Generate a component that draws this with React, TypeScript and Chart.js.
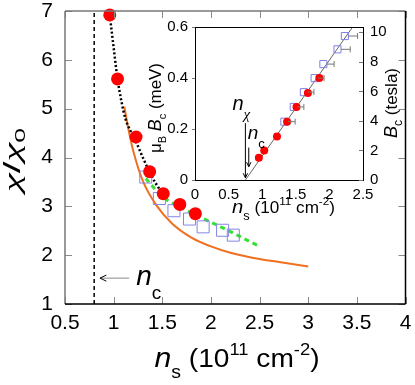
import React, { useEffect, useRef } from 'react';
import { Chart, registerables } from 'chart.js';

Chart.register(...registerables);

const SANS = '"Liberation Sans", Arial, Helvetica, sans-serif';
const SERIF = '"Liberation Serif", "DejaVu Serif", serif';
Chart.defaults.font.family = SANS;
Chart.defaults.color = '#000';

// ---------- main panel: chi/chi0 vs n_s ----------
const mainXTicks = [0.5, 1, 1.5, 2, 2.5, 3, 3.5, 4];
const mainXTickLabels = ['0.5', '1', '1.5', '2', '2.5', '3', '3.5', '4'];
const mainYTicks = [1, 2, 3, 4, 5, 6, 7];
const mainYTickLabels = ['1', '2', '3', '4', '5', '6', '7'];

const redNs = [0.96, 1.04, 1.23, 1.37, 1.51, 1.68, 1.84];
const redChi = [6.92, 5.61, 4.42, 3.71, 3.26, 3.04, 2.85];
const sqNs = [1.33, 1.47, 1.62, 1.78, 1.92, 2.12, 2.23];
const sqChi = [3.6, 3.16, 2.91, 2.74, 2.58, 2.51, 2.41];
const dottedNs = [0.96, 1.0, 1.04, 1.08, 1.12, 1.18, 1.23, 1.3, 1.37, 1.43, 1.49];
const dottedChi = [6.92, 6.25, 5.61, 5.15, 4.8, 4.52, 4.32, 4.0, 3.7, 3.48, 3.3];
const greenNs = [1.33, 1.5, 1.7, 1.9, 2.1, 2.3, 2.51];
const greenChi = [3.57, 3.2, 2.97, 2.77, 2.58, 2.38, 2.17];
const orangeNs = [1.11, 1.15, 1.2, 1.3, 1.44, 1.6, 1.8, 2.0, 2.2, 2.5, 2.7, 3.0];
const orangeChi = [5.04, 4.6, 4.15, 3.52, 3.02, 2.65, 2.36, 2.18, 2.05, 1.92, 1.86, 1.77];
const ncLineNs = [0.8, 0.8];
const ncLineChi = [1, 7];
const ncArrowNs = [1.16, 0.86];
const ncArrowChi = 1.53;

// ---------- inset: mu_B B_c vs n_s ----------
const insetXTicks = [0, 0.5, 1, 1.5, 2, 2.5];
const insetXTickLabels = ['0', '0.5', '1', '1.5', '2', '2.5'];
const insetYTicks = [0, 0.2, 0.4, 0.6];
const insetYTickLabels = ['0', '0.2', '0.4', '0.6'];
const insetY2Ticks = [0, 2, 4, 6, 8, 10];
const insetY2TickLabels = ['0', '2', '4', '6', '8', '10'];
const muB = 0.0579; // meV per tesla
const insetYMax = 0.6;

const insetRedNs = [0.95, 1.03, 1.22, 1.37, 1.51, 1.68, 1.85];
const insetRedB = [1.5, 2.0, 2.95, 3.95, 4.95, 5.9, 6.9];
const insetSqNs = [1.33, 1.47, 1.62, 1.78, 1.91, 2.12, 2.23];
const insetSqB = [3.95, 4.95, 5.95, 6.9, 7.85, 8.85, 9.75];
const insetSqErr = [0.16, 0.15, 0.15, 0.14, 0.16, 0.19, 0.19];
const fitNs = [0.75, 2.345];
const fitB = [0, 10.36];
const nChiNs = 0.75;
const nChiArrowB = [3.85, 0.15];
const ncNs = 0.8;
const ncArrowB = [2.2, 0.9];

const pts = (xs: number[], ys: number[]) => xs.map((x, i) => ({ x, y: ys[i] }));

type Seg = { t: string; size: number; italic?: boolean; dy?: number; serif?: boolean };
const segFont = (s: Seg) => `${s.italic ? 'italic ' : ''}${s.size}px ${s.serif ? SERIF : SANS}`;

function drawRich(
  ctx: CanvasRenderingContext2D,
  segs: Seg[],
  x: number,
  y: number,
  opt: { align?: 'left' | 'center'; rot?: number; width?: number; color?: string } = {}
) {
  ctx.save();
  let w = 0;
  for (const s of segs) {
    ctx.font = segFont(s);
    w += ctx.measureText(s.t).width;
  }
  const sx = opt.width ? opt.width / w : 1;
  ctx.translate(x, y);
  if (opt.rot) ctx.rotate(opt.rot);
  ctx.scale(sx, 1);
  let cx = opt.align === 'center' ? -w / 2 : 0;
  ctx.fillStyle = opt.color || '#000';
  ctx.textAlign = 'left';
  ctx.textBaseline = 'alphabetic';
  for (const s of segs) {
    ctx.font = segFont(s);
    ctx.fillText(s.t, cx, s.dy || 0);
    cx += ctx.measureText(s.t).width;
  }
  ctx.restore();
}

function seg(ctx: CanvasRenderingContext2D, x1: number, y1: number, x2: number, y2: number) {
  ctx.beginPath();
  ctx.moveTo(x1, y1);
  ctx.lineTo(x2, y2);
  ctx.stroke();
}

function arrow(
  ctx: CanvasRenderingContext2D,
  x1: number, y1: number, x2: number, y2: number,
  lineColor: string, headColor: string, head = 6
) {
  ctx.save();
  ctx.lineWidth = 1;
  ctx.strokeStyle = lineColor;
  seg(ctx, x1, y1, x2, y2);
  const ang = Math.atan2(y2 - y1, x2 - x1);
  ctx.strokeStyle = headColor;
  ctx.beginPath();
  ctx.moveTo(x2 - head * Math.cos(ang - 0.45), y2 - head * Math.sin(ang - 0.45));
  ctx.lineTo(x2, y2);
  ctx.lineTo(x2 - head * Math.cos(ang + 0.45), y2 - head * Math.sin(ang + 0.45));
  ctx.stroke();
  ctx.restore();
}

const tickSetter = (vals: number[]) => (axis: any) => {
  axis.ticks = vals.map((value) => ({ value }));
};
const labelFor = (vals: number[], labels: string[]) => (v: any) => {
  const i = vals.indexOf(Number(v));
  return i >= 0 ? labels[i] : '';
};
// fixed axis box size; label overflow must not push the plot area around
const fixSize = (prop: 'width' | 'height', size: number) => (s: any) => {
  s[prop] = size;
  s.paddingTop = 0;
  s.paddingBottom = 0;
  s.paddingLeft = 0;
  s.paddingRight = 0;
};

const mainDecor = {
  id: 'mainDecor',
  afterDraw(chart: any) {
    const { ctx, chartArea: a, scales } = chart;
    const x = scales.x;
    const y = scales.y;
    ctx.save();
    // inward ticks on all sides
    ctx.strokeStyle = '#8a8a8a';
    ctx.lineWidth = 1;
    for (const v of mainXTicks) {
      const px = Math.round(x.getPixelForValue(v)) + 0.5;
      seg(ctx, px, a.bottom, px, a.bottom - 7);
      seg(ctx, px, a.top, px, a.top + 7);
    }
    for (const v of mainYTicks) {
      const py = Math.round(y.getPixelForValue(v)) + 0.5;
      seg(ctx, a.left, py, a.left + 7, py);
      seg(ctx, a.right, py, a.right - 7, py);
    }
    // frame
    ctx.lineWidth = 1.5;
    ctx.strokeStyle = '#777';
    seg(ctx, a.left, a.bottom, a.left, a.top);
    seg(ctx, a.left, a.top, a.right, a.top);
    ctx.strokeStyle = '#000';
    seg(ctx, a.left, a.bottom, a.right, a.bottom);
    seg(ctx, a.right, a.bottom, a.right, a.top);

    // axis titles
    drawRich(
      ctx,
      [
        { t: 'χ', size: 24, serif: true, italic: true },
        { t: '/', size: 24 },
        { t: 'χ', size: 24, serif: true, italic: true },
        { t: '0', size: 15, dy: 5 },
      ],
      20, 160, { align: 'center', rot: -Math.PI / 2, width: 64 }
    );
    drawRich(
      ctx,
      [
        { t: 'n', size: 28, italic: true },
        { t: 's', size: 18, dy: 11 },
        { t: ' (10', size: 26 },
        { t: '11', size: 17, dy: -12 },
        { t: ' cm', size: 26 },
        { t: '-2', size: 17, dy: -12 },
        { t: ')', size: 26 },
      ],
      237, 367, { align: 'center', width: 165 }
    );

    // n_c annotation
    const ay = y.getPixelForValue(ncArrowChi);
    const ax1 = x.getPixelForValue(ncArrowNs[0]);
    const ax2 = x.getPixelForValue(ncArrowNs[1]);
    arrow(ctx, ax1, ay, ax2, ay, '#888', '#000', 7);
    drawRich(
      ctx,
      [
        { t: 'n', size: 28, italic: true },
        { t: 'c', size: 19, dy: 14 },
      ],
      ax1 + 7, ay + 7
    );
    ctx.restore();
  },
};

const insetDecor = {
  id: 'insetDecor',
  beforeDatasetsDraw(chart: any) {
    const { ctx, chartArea: a } = chart;
    ctx.save();
    ctx.fillStyle = '#fff';
    ctx.fillRect(a.left, a.top, a.right - a.left, a.bottom - a.top);
    ctx.restore();
  },
  afterDatasetsDraw(chart: any) {
    const { ctx, chartArea: a, scales } = chart;
    const x = scales.x;
    const y = scales.y;
    const y2 = scales.y2;
    ctx.save();
    // error bars (one-sided, to the right)
    ctx.strokeStyle = '#777';
    ctx.lineWidth = 1;
    insetSqNs.forEach((ns, i) => {
      const px = x.getPixelForValue(ns);
      const pe = x.getPixelForValue(ns + insetSqErr[i]);
      const py = y2.getPixelForValue(insetSqB[i]);
      seg(ctx, px + 3.5, py, pe, py);
      seg(ctx, pe, py - 3, pe, py + 3);
    });
    // frame
    ctx.strokeStyle = '#000';
    ctx.lineWidth = 1;
    ctx.strokeRect(Math.round(a.left) + 0.5, Math.round(a.top) + 0.5, Math.round(a.right - a.left), Math.round(a.bottom - a.top));
    // ticks
    ctx.strokeStyle = '#777';
    for (const v of insetYTicks) {
      const py = Math.round(y.getPixelForValue(v)) + 0.5;
      seg(ctx, a.left - 3, py, a.left, py);
    }
    for (const v of insetY2Ticks) {
      const py = Math.round(y2.getPixelForValue(v)) + 0.5;
      seg(ctx, a.right - 4, py, a.right, py);
    }

    // titles
    drawRich(
      ctx,
      [
        { t: 'n', size: 19, italic: true },
        { t: 's', size: 12, dy: 7 },
        { t: ' (10', size: 16 },
        { t: '11', size: 11, dy: -8 },
        { t: ' cm', size: 16 },
        { t: '-2', size: 11, dy: -8 },
        { t: ')', size: 16 },
      ],
      153.5, 213, { align: 'center', width: 103 }
    );
    drawRich(
      ctx,
      [
        { t: 'μ', size: 17 },
        { t: 'B', size: 11, dy: 5 },
        { t: ' ', size: 17 },
        { t: 'B', size: 18, italic: true },
        { t: 'c', size: 11, dy: 5 },
        { t: ' (meV)', size: 17 },
      ],
      31, 108, { align: 'center', rot: -Math.PI / 2, width: 90 }
    );
    drawRich(
      ctx,
      [
        { t: 'B', size: 18, italic: true },
        { t: 'c', size: 12, dy: 5 },
        { t: ' (tesla)', size: 17 },
      ],
      267, 103, { align: 'center', rot: -Math.PI / 2, width: 70 }
    );

    // n_chi and n_c arrows
    const xc = x.getPixelForValue(nChiNs);
    arrow(ctx, xc, y2.getPixelForValue(nChiArrowB[0]), xc, y2.getPixelForValue(nChiArrowB[1]), '#000', '#000', 5);
    drawRich(
      ctx,
      [{ t: 'n', size: 20, italic: true }, { t: 'χ', size: 15, dy: 9, serif: true, italic: true }],
      xc - 13, y2.getPixelForValue(nChiArrowB[0]) - 13
    );
    const xn = x.getPixelForValue(ncNs);
    arrow(ctx, xn, y2.getPixelForValue(ncArrowB[0]), xn, y2.getPixelForValue(ncArrowB[1]), '#000', '#000', 5);
    drawRich(
      ctx,
      [{ t: 'n', size: 19, italic: true }, { t: 'c', size: 13, dy: 9 }],
      xn - 1, y2.getPixelForValue(ncArrowB[0]) - 9
    );
    ctx.restore();
  },
};

function mainConfig(): any {
  return {
    type: 'scatter',
    data: {
      datasets: [
        {
          data: pts(redNs, redChi),
          pointRadius: 6.5,
          pointBackgroundColor: '#ff0000',
          pointBorderColor: '#ff0000',
          pointBorderWidth: 0,
          clip: false,
          order: 0,
        },
        {
          data: pts(sqNs, sqChi),
          pointStyle: 'rect',
          pointRadius: 8.5,
          pointBackgroundColor: 'rgba(0,0,0,0)',
          pointBorderColor: '#8585e6',
          pointBorderWidth: 1,
          order: 1,
        },
        {
          data: pts(greenNs, greenChi),
          showLine: true,
          borderColor: '#33e033',
          borderWidth: 3,
          borderDash: [5, 4],
          pointRadius: 0,
          cubicInterpolationMode: 'monotone',
          order: 2,
        },
        {
          data: pts(dottedNs, dottedChi),
          showLine: true,
          borderColor: '#000',
          borderWidth: 2.5,
          borderDash: [2, 2.2],
          pointRadius: 0,
          cubicInterpolationMode: 'monotone',
          order: 3,
        },
        {
          data: pts(orangeNs, orangeChi),
          showLine: true,
          borderColor: '#f07020',
          borderWidth: 2,
          pointRadius: 0,
          cubicInterpolationMode: 'monotone',
          order: 4,
        },
        {
          data: pts(ncLineNs, ncLineChi),
          showLine: true,
          borderColor: '#000',
          borderWidth: 1.5,
          borderDash: [4, 3],
          pointRadius: 0,
          tension: 0,
          order: 5,
        },
      ],
    },
    options: {
      responsive: false,
      devicePixelRatio: 1,
      animation: false,
      events: [],
      layout: { padding: { top: 11, right: 7, left: 0, bottom: 0 } },
      plugins: { legend: { display: false }, tooltip: { enabled: false } },
      scales: {
        x: {
          type: 'linear',
          min: 0.5,
          max: 4,
          grid: { display: false, drawTicks: false },
          border: { display: false },
          afterBuildTicks: tickSetter(mainXTicks),
          afterFit: fixSize('height', 81),
          ticks: {
            autoSkip: false,
            maxRotation: 0,
            padding: 7,
            font: { size: 21 },
            color: '#000',
            callback: labelFor(mainXTicks, mainXTickLabels),
          },
        },
        y: {
          type: 'linear',
          min: 1,
          max: 7,
          grid: { display: false, drawTicks: false },
          border: { display: false },
          afterBuildTicks: tickSetter(mainYTicks),
          afterFit: fixSize('width', 65),
          ticks: {
            autoSkip: false,
            padding: 12,
            font: { size: 21 },
            color: '#000',
            callback: labelFor(mainYTicks, mainYTickLabels),
          },
        },
      },
    },
    plugins: [mainDecor],
  };
}

function insetConfig(): any {
  return {
    type: 'scatter',
    data: {
      datasets: [
        {
          data: pts(insetRedNs, insetRedB),
          yAxisID: 'y2',
          pointRadius: 4,
          pointBackgroundColor: '#ff0000',
          pointBorderColor: '#ff0000',
          pointBorderWidth: 0,
          order: 0,
        },
        {
          data: pts(insetSqNs, insetSqB),
          yAxisID: 'y2',
          pointStyle: 'rect',
          pointRadius: 5,
          pointBackgroundColor: 'rgba(0,0,0,0)',
          pointBorderColor: '#7f7fe6',
          pointBorderWidth: 1,
          order: 1,
        },
        {
          data: pts(fitNs, fitB),
          yAxisID: 'y2',
          showLine: true,
          borderColor: '#666',
          borderWidth: 1,
          pointRadius: 0,
          order: 2,
        },
      ],
    },
    options: {
      responsive: false,
      devicePixelRatio: 1,
      animation: false,
      events: [],
      layout: { padding: { top: 27, right: 0, left: 0, bottom: 0 } },
      plugins: { legend: { display: false }, tooltip: { enabled: false } },
      scales: {
        x: {
          type: 'linear',
          min: 0,
          max: 2.5,
          grid: { display: false, drawTicks: false },
          border: { display: false },
          afterBuildTicks: tickSetter(insetXTicks),
          afterFit: fixSize('height', 45),
          ticks: {
            autoSkip: false,
            maxRotation: 0,
            padding: 6,
            font: { size: 15 },
            color: '#000',
            callback: labelFor(insetXTicks, insetXTickLabels),
          },
        },
        y: {
          type: 'linear',
          position: 'left',
          min: 0,
          max: insetYMax,
          grid: { display: false, drawTicks: false },
          border: { display: false },
          afterBuildTicks: tickSetter(insetYTicks),
          afterFit: fixSize('width', 65),
          ticks: {
            autoSkip: false,
            padding: 7,
            font: { size: 15 },
            color: '#000',
            callback: labelFor(insetYTicks, insetYTickLabels),
          },
        },
        y2: {
          type: 'linear',
          position: 'right',
          min: 0,
          max: insetYMax / muB,
          grid: { display: false, drawTicks: false },
          border: { display: false },
          afterBuildTicks: tickSetter(insetY2Ticks),
          afterFit: fixSize('width', 52),
          ticks: {
            autoSkip: false,
            padding: 7,
            font: { size: 15 },
            color: '#000',
            callback: labelFor(insetY2Ticks, insetY2TickLabels),
          },
        },
      },
    },
    plugins: [insetDecor],
  };
}

export default function App() {
  const mainRef = useRef<HTMLCanvasElement>(null);
  const insetRef = useRef<HTMLCanvasElement>(null);
  useEffect(() => {
    const c1 = new Chart(mainRef.current as HTMLCanvasElement, mainConfig());
    const c2 = new Chart(insetRef.current as HTMLCanvasElement, insetConfig());
    return () => {
      c1.destroy();
      c2.destroy();
    };
  }, []);
  return (
    <div style={{ position: 'fixed', left: 0, top: 0, width: 415, height: 385, background: '#fff' }}>
      <canvas
        ref={mainRef}
        width={415}
        height={385}
        style={{ position: 'absolute', left: 0, top: 0, width: 415, height: 385 }}
      />
      <canvas
        ref={insetRef}
        width={285}
        height={225}
        style={{ position: 'absolute', left: 130, top: 0, width: 285, height: 225 }}
      />
    </div>
  );
}
